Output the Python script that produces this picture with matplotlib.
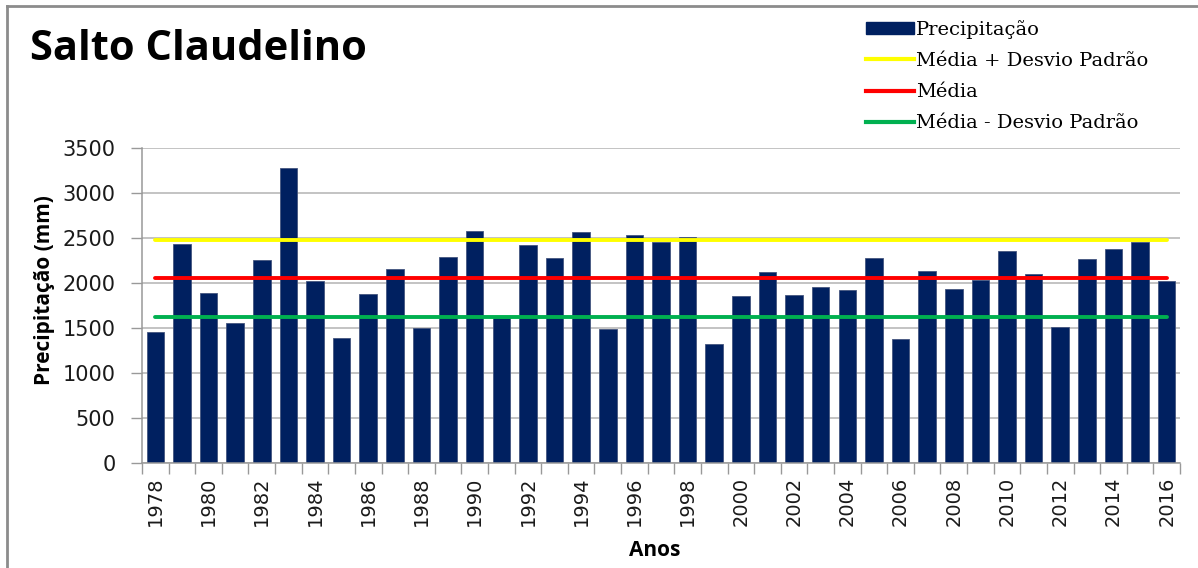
import numpy as np
import matplotlib
matplotlib.use("Agg")
import matplotlib.pyplot as plt
from matplotlib.lines import Line2D
from matplotlib.patches import Patch

# ---- data ---------------------------------------------------------------------
anos = list(range(1978, 2017))
precip = [1452, 2437, 1893, 1555, 2255, 3274, 2026, 1389, 1882, 2152,
          1504, 2293, 2582, 1607, 2422, 2281, 2567, 1493, 2537, 2452,
          2515, 1326, 1856, 2126, 1867, 1959, 1919, 2281, 1374, 2137,
          1930, 2033, 2359, 2096, 1515, 2270, 2374, 2452, 2019]
MEDIA = 2052
DESVIO = 426

NAVY = "#002060"
W, H, DPI = 1198, 568, 100

fig = plt.figure(figsize=(W / DPI, H / DPI), dpi=DPI, facecolor="white")
ax = fig.add_axes([142 / W, 1 - 463 / H, (1180 - 142) / W, (463 - 148) / H])

x = np.arange(len(anos))
ax.bar(x, precip, width=0.66, color=NAVY, edgecolor="#44557f", linewidth=0.6,
       zorder=2, label="Precipitação")
xl = [x[0], x[-1]]
ax.plot(xl, [MEDIA + DESVIO] * 2, color="#ffff00", lw=2.8, zorder=3,
        solid_capstyle="round")
ax.plot(xl, [MEDIA] * 2, color="#ff0000", lw=2.8, zorder=3, solid_capstyle="round")
ax.plot(xl, [MEDIA - DESVIO] * 2, color="#00b050", lw=2.8, zorder=3,
        solid_capstyle="round")

ax.set_xlim(-0.5, len(anos) - 0.5)
ax.set_ylim(0, 3500)
ax.set_yticks(range(0, 3501, 500))
ax.yaxis.grid(True, color="#b3b3b3", lw=1.1, zorder=0)
ax.set_axisbelow(True)

# ticks at category boundaries, labels every other year
ax.set_xticks(np.arange(-0.5, len(anos)), minor=False)
ax.set_xticklabels([])
ax.set_xticks(x[::2], minor=True)
ax.set_xticklabels([str(a) for a in anos[::2]], minor=True, rotation=90,
                   fontsize=14, family="DejaVu Sans", color="#1a1a1a")
ax.tick_params(axis="x", which="major", length=8, color="#999999", width=1)
ax.tick_params(axis="x", which="minor", length=0, pad=10)
ax.tick_params(axis="y", length=8, color="#999999", width=1, pad=11,
               labelsize=15, labelcolor="#1a1a1a")
for lb in ax.get_yticklabels():
    lb.set_family("DejaVu Sans")

for s in ["top", "right"]:
    ax.spines[s].set_visible(False)
for s in ["left", "bottom"]:
    ax.spines[s].set_color("#999999")
    ax.spines[s].set_linewidth(1.1)

fig.text(45 / W, 1 - 290 / H, "Precipitação (mm)", rotation=90, ha="center",
         va="center", fontsize=15, fontweight="bold", family="Open Sans")
fig.text(655 / W, 1 - 550 / H, "Anos", ha="center", va="center",
         fontsize=15, fontweight="bold", family="Open Sans")
fig.text(30 / W, 1 - 50 / H, "Salto Claudelino", ha="left", va="center",
         fontsize=30, fontweight="bold", family="Open Sans")

# legend
handles = [Patch(facecolor=NAVY, edgecolor=NAVY, label="Precipitação"),
           Line2D([], [], color="#ffff00", lw=3, label="Média + Desvio Padrão"),
           Line2D([], [], color="#ff0000", lw=3, label="Média"),
           Line2D([], [], color="#00b050", lw=3, label="Média - Desvio Padrão")]
fig.legend(handles=handles, loc="upper left", bbox_to_anchor=(858 / W, 1 - 12 / H),
           frameon=False, prop={"family": "DejaVu Serif", "size": 14},
           handlelength=2.5, handleheight=0.6, handletextpad=0.1,
           labelspacing=0.68, borderaxespad=0)

# outer frame of the chart object
fig.add_artist(Line2D([7 / W, 7 / W], [0, 1 - 6 / H], color="#8c8c8c", lw=2))
fig.add_artist(Line2D([7 / W, 1], [1 - 6 / H, 1 - 6 / H], color="#8c8c8c", lw=2))

fig.savefig("out.png", dpi=DPI, facecolor="white")
